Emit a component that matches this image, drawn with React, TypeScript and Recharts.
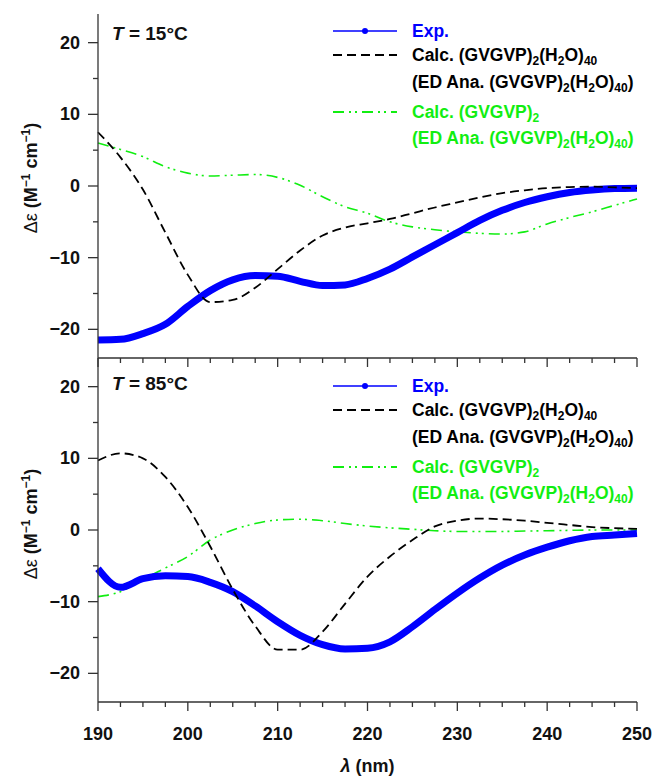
import React from 'react'
import { LineChart, Line, XAxis, YAxis } from 'recharts'

// wavelength grid (nm)
const WAVELENGTH = [
  190, 192.5, 195, 197.5, 200, 202.5, 205, 207.5, 210, 212.5, 215, 217.5, 220,
  222.5, 225, 227.5, 230, 232.5, 235, 237.5, 240, 242.5, 245, 247.5, 250,
]

// T = 15°C
const EXP_15 = [
  -21.5, -21.4, -20.6, -19.3, -16.8, -14.6, -13.1, -12.5, -12.6, -13.3, -13.9, -13.8, -12.9,
  -11.6, -9.9, -8.2, -6.5, -4.8, -3.4, -2.3, -1.5, -0.9, -0.55, -0.35, -0.3,
]
const CALC_15 = [
  7.5, 4.0, -0.5, -6.5, -12.4, -16.2, -15.9, -14.2, -11.6, -9.0, -6.9, -5.8, -5.2,
  -4.6, -3.8, -3.0, -2.3, -1.6, -1.0, -0.6, -0.3, -0.15, -0.1, -0.2, -0.3,
]
const GAS_15 = [
  6.0, 5.1, 4.1, 2.7, 1.8, 1.4, 1.5, 1.6, 1.2, 0.1, -1.5, -2.9, -3.8,
  -5.0, -5.7, -6.1, -6.4, -6.6, -6.7, -6.4, -5.3, -4.4, -3.6, -2.7, -1.8,
]

// T = 85°C
const EXP_85 = [
  -5.4, -8.0, -6.8, -6.4, -6.5, -7.3, -8.6, -10.6, -12.8, -14.7, -16.0, -16.6, -16.5,
  -15.6, -13.5, -11.1, -8.8, -6.7, -4.9, -3.5, -2.4, -1.5, -0.9, -0.7, -0.5,
]
const CALC_85 = [
  9.7, 10.7, 10.0, 7.4, 3.2, -2.3, -8.3, -13.4, -16.7, -16.7, -14.2, -10.3, -6.5,
  -3.7, -1.4, 0.5, 1.3, 1.6, 1.5, 1.3, 1.0, 0.7, 0.4, 0.25, 0.15,
]
const GAS_85 = [
  -9.3, -8.6, -6.9, -5.3, -3.7, -1.4, 0, 0.9, 1.4, 1.5, 1.3, 0.9, 0.55,
  0.3, 0.1, -0.1, -0.2, -0.2, -0.2, -0.15, -0.1, -0.05, 0, 0, 0,
]

const X_TICKS = [
  190, 192.5, 195, 197.5, 200, 202.5, 205, 207.5, 210, 212.5, 215, 217.5, 220,
  222.5, 225, 227.5, 230, 232.5, 235, 237.5, 240, 242.5, 245, 247.5, 250,
]
const Y_TICKS = [-20, -15, -10, -5, 0, 5, 10, 15, 20]

const FONT = '"Liberation Sans", Arial, sans-serif'
const AXIS = '#333'
const BLUE = '#0000ff'
const GREEN = '#11ee11'
const GREEN_DASH = '11 5 2 4 2 5'
const BLACK_DASH = '9 5'

const rows15 = WAVELENGTH.map((x, i) => ({ x, exp: EXP_15[i], calc: CALC_15[i], gas: GAS_15[i] }))
const rows85 = WAVELENGTH.map((x, i) => ({ x, exp: EXP_85[i], calc: CALC_85[i], gas: GAS_85[i] }))

const fmt = (v: number) => (v < 0 ? `\u2212${Math.abs(v)}` : `${v}`)

function XTick({ x, y, payload, showLabel }: any) {
  const major = payload.value % 10 === 0
  return (
    <g>
      <line x1={x} x2={x} y1={y} y2={y + (major ? 9 : 5)} stroke={AXIS} strokeWidth={1.3} />
      {showLabel && major && (
        <text x={x} y={y + 38} textAnchor="middle" fontFamily={FONT} fontWeight="bold" fontSize={18} fill="#111">
          {payload.value}
        </text>
      )}
    </g>
  )
}

function YTick({ x, y, payload }: any) {
  const major = payload.value % 10 === 0
  return (
    <g>
      <line x1={x} x2={x - (major ? 10 : 5)} y1={y} y2={y} stroke={AXIS} strokeWidth={1.3} />
      {major && (
        <text x={x - 18} y={y + 6} textAnchor="end" fontFamily={FONT} fontWeight="bold" fontSize={18} fill="#111">
          {fmt(payload.value)}
        </text>
      )}
    </g>
  )
}

const Sub = ({ children }: { children: React.ReactNode }) => (
  <span style={{ fontSize: 12, position: 'relative', top: 4 }}>{children}</span>
)

function Swatch({ kind }: { kind: 'exp' | 'calc' | 'gas' }) {
  return (
    <svg width={66} height={10} style={{ position: 'absolute', left: -79, top: 5 }}>
      {kind === 'exp' && (
        <>
          <line x1={0} x2={64} y1={5} y2={5} stroke={BLUE} strokeWidth={1.5} />
          <circle cx={32} cy={5} r={3} fill={BLUE} />
        </>
      )}
      {kind === 'calc' && <line x1={0} x2={64} y1={5} y2={5} stroke="#000" strokeWidth={2} strokeDasharray={BLACK_DASH} />}
      {kind === 'gas' && <line x1={0} x2={64} y1={5} y2={5} stroke={GREEN} strokeWidth={1.8} strokeDasharray={GREEN_DASH} />}
    </svg>
  )
}

function LegendBlock({ top }: { top: number }) {
  const row = (y: number, color: string, content: React.ReactNode, kind?: 'exp' | 'calc' | 'gas') => (
    <div style={{ position: 'absolute', left: 412, top: top + y - 10, height: 20, lineHeight: '20px', whiteSpace: 'nowrap', color, fontSize: 17.5, fontWeight: 'bold', fontFamily: FONT }}>
      {kind && <Swatch kind={kind} />}
      {content}
    </div>
  )
  return (
    <>
      {row(31, BLUE, 'Exp.', 'exp')}
      {row(55, '#000', <>Calc. (GVGVP)<Sub>2</Sub>(H<Sub>2</Sub>O)<Sub>40</Sub></>, 'calc')}
      {row(82, '#000', <>(ED Ana. (GVGVP)<Sub>2</Sub>(H<Sub>2</Sub>O)<Sub>40</Sub>)</>)}
      {row(112, GREEN, <>Calc. (GVGVP)<Sub>2</Sub></>, 'gas')}
      {row(138, GREEN, <>(ED Ana. (GVGVP)<Sub>2</Sub>(H<Sub>2</Sub>O)<Sub>40</Sub>)</>)}
    </>
  )
}

function TempLabel({ top, t }: { top: number; t: string }) {
  return (
    <div style={{ position: 'absolute', left: 112, top, fontFamily: FONT, fontWeight: 'bold', fontSize: 19, lineHeight: '20px', whiteSpace: 'nowrap', color: '#111' }}>
      <i>T</i> = {t}°C
    </div>
  )
}

function YLabel({ cy }: { cy: number }) {
  return (
    <div style={{ position: 'absolute', left: 30, top: cy, width: 0, height: 0 }}>
      <div style={{ position: 'absolute', left: 0, top: 0, transform: 'translate(-50%,-50%) rotate(-90deg)', whiteSpace: 'nowrap', fontFamily: FONT, fontWeight: 'bold', fontSize: 18, color: '#111' }}>
        <span style={{ fontWeight: 'normal' }}>Δε</span> (M<sup style={{ fontSize: 12 }}>−1</sup> cm<sup style={{ fontSize: 12 }}>−1</sup>)
      </div>
    </div>
  )
}

function Panel({ data, height, xHeight, showLabels, frameTop }: { data: any[]; height: number; xHeight: number; showLabels: boolean; frameTop: boolean }) {
  return (
    <LineChart width={656} height={height} data={data} margin={{ top: frameTop ? 14 : 0, right: 19, left: 0, bottom: 0 }}>
      <XAxis
        dataKey="x"
        type="number"
        domain={[190, 250]}
        ticks={X_TICKS}
        interval={0}
        height={xHeight}
        tickSize={0}
        tickMargin={0}
        tickLine={false}
        axisLine={{ stroke: AXIS, strokeWidth: 1.3 }}
        tick={(p: any) => <XTick {...p} showLabel={showLabels} />}
      />
      {frameTop && (
        <XAxis xAxisId="top" orientation="top" dataKey="x" type="number" domain={[190, 250]} height={0} tick={false} tickLine={false} axisLine={{ stroke: AXIS, strokeWidth: 1.3 }} />
      )}
      <YAxis
        type="number"
        domain={[-24, 24]}
        ticks={Y_TICKS}
        interval={0}
        width={98}
        tickSize={0}
        tickMargin={0}
        tickLine={false}
        axisLine={{ stroke: AXIS, strokeWidth: 1.3 }}
        tick={(p: any) => <YTick {...p} />}
      />
      <YAxis yAxisId="right" orientation="right" type="number" domain={[-24, 24]} width={0} tick={false} tickLine={false} axisLine={{ stroke: AXIS, strokeWidth: 1.3 }} />
      <Line type="monotone" dataKey="gas" stroke={GREEN} strokeWidth={1.6} strokeDasharray={GREEN_DASH} dot={false} isAnimationActive={false} />
      <Line type="monotone" dataKey="exp" stroke={BLUE} strokeWidth={7} dot={false} isAnimationActive={false} />
      <Line type="monotone" dataKey="calc" stroke="#000" strokeWidth={1.8} strokeDasharray={BLACK_DASH} dot={false} isAnimationActive={false} />
    </LineChart>
  )
}

export default function App() {
  return (
    <div style={{ position: 'absolute', left: 0, top: 0, width: 656, height: 781, background: '#fff' }}>
      <div style={{ position: 'absolute', left: 0, top: 0 }}>
        <Panel data={rows15} height={372} xHeight={14} showLabels={false} frameTop />
      </div>
      <div style={{ position: 'absolute', left: 0, top: 358 }}>
        <Panel data={rows85} height={423} xHeight={79} showLabels frameTop={false} />
      </div>

      <TempLabel top={24} t="15" />
      <TempLabel top={374} t="85" />
      <LegendBlock top={0} />
      <LegendBlock top={355} />
      <YLabel cy={178} />
      <YLabel cy={524} />

      <div style={{ position: 'absolute', left: 0, width: 735, top: 756, textAlign: 'center', fontFamily: FONT, fontWeight: 'bold', fontSize: 18, lineHeight: '20px', color: '#111' }}>
        <i>λ</i> (nm)
      </div>
    </div>
  )
}
